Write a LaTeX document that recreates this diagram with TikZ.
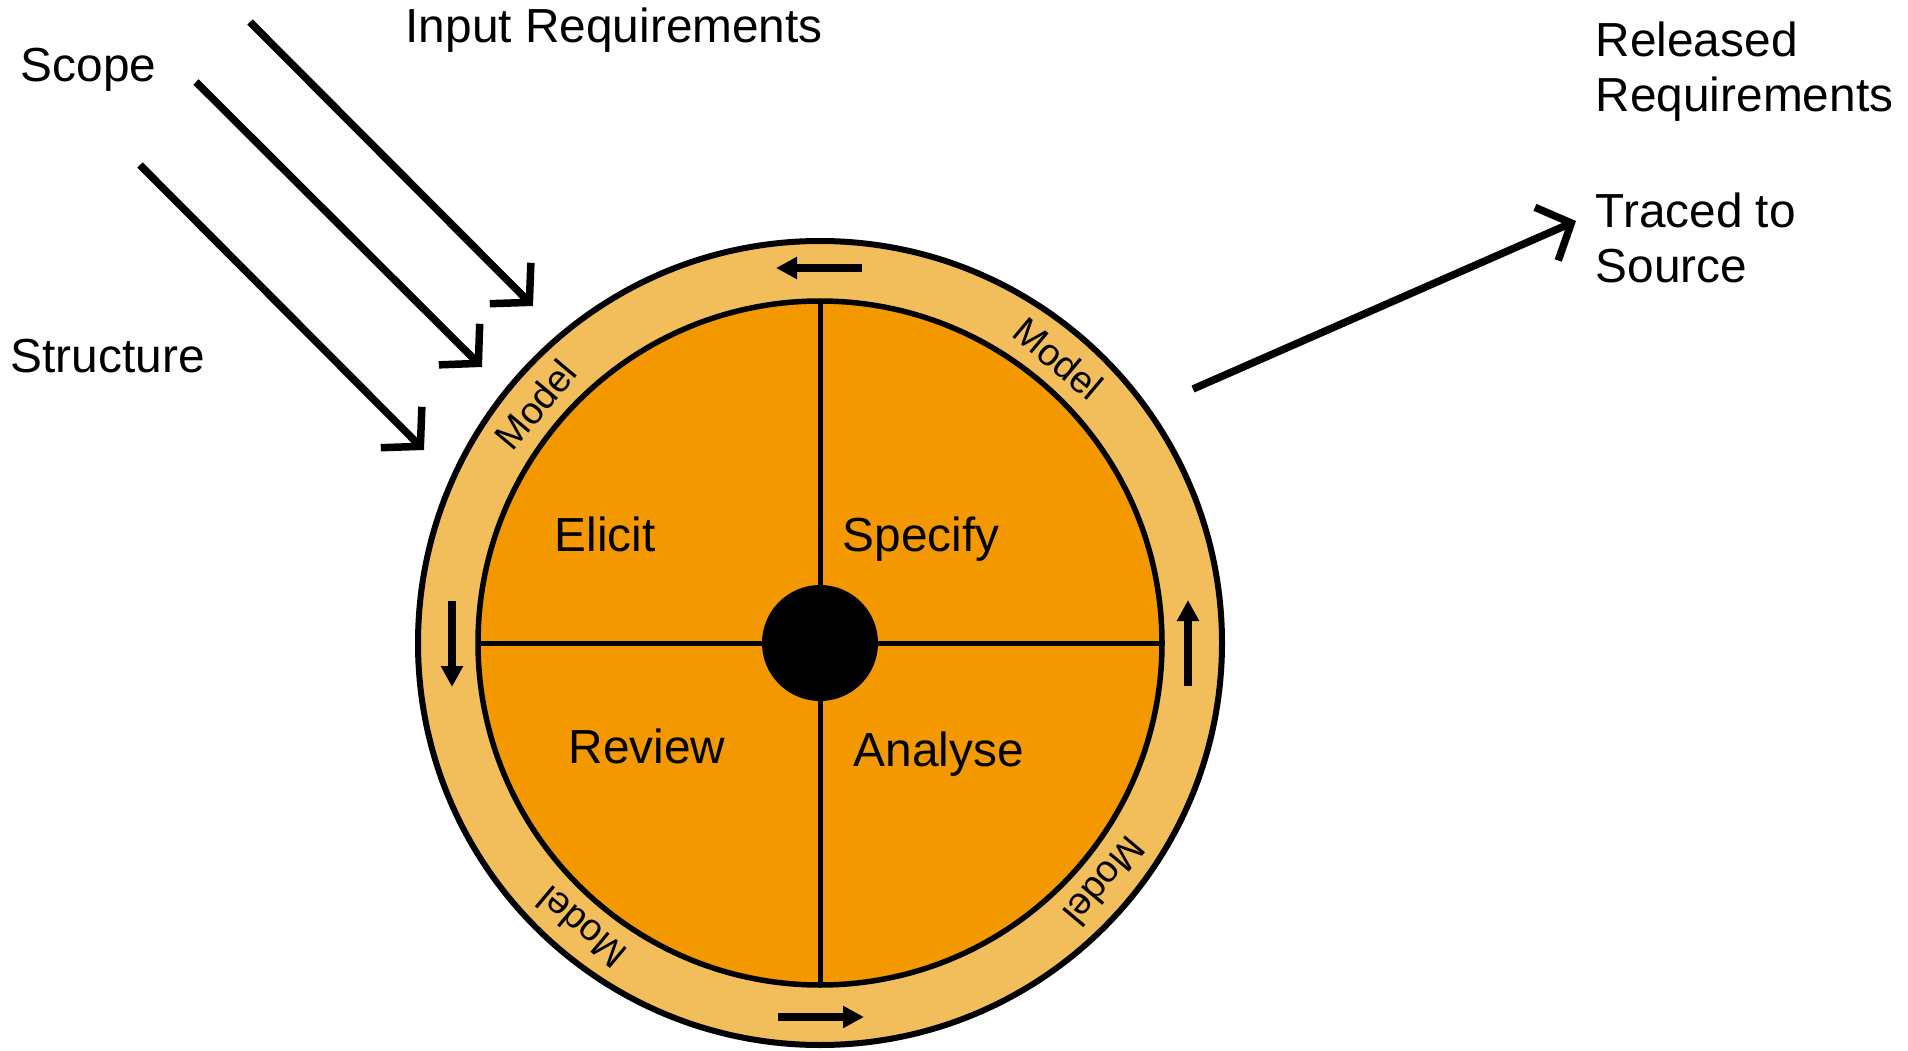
\documentclass[tikz,border=0pt]{standalone}
\usepackage{fontspec}
\setmainfont{Liberation Sans}
\usetikzlibrary{arrows.meta}

\definecolor{ringgold}{RGB}{242,190,92}
\definecolor{wheelorange}{RGB}{244,152,0}

\tikzset{
  ringdisc/.style={circle, draw, line width=0.06cm, fill=ringgold,
    minimum size=8.04cm, inner sep=0pt, outer sep=0pt},
  wheeldisc/.style={circle, draw, line width=0.055cm, fill=wheelorange,
    minimum size=6.84cm, inner sep=0pt, outer sep=0pt},
  hubdot/.style={circle, fill=black, minimum size=1.16cm, inner sep=0pt},
  divider/.style={line width=0.05cm},
  phase/.style={anchor=base west, inner sep=0pt, font=\fontsize{13.6}{16}\selectfont},
  sidetext/.style={anchor=base west, inner sep=0pt, align=left,
    font=\fontsize{13.6}{15.9}\selectfont},
  modeltag/.style={inner sep=0pt, font=\fontsize{10.8}{12}\selectfont},
  flowarrow/.style={line width=0.075cm, -{Triangle[length=0.21cm,width=0.21cm]}},
  feedarrow/.style={line width=0.075cm, -{Straight Barb[length=0.27cm,width=0.58cm]}}
}

\begin{document}
\begin{tikzpicture}
  \useasboundingbox (0,0) rectangle (19.08,10.5);

  % the wheel
  \node[ringdisc] (ring) at (8.20,4.07) {};
  \node[wheeldisc] (wheel) at (ring.center) {};
  \draw[divider] (wheel.north) -- (wheel.south);
  \draw[divider] (wheel.west) -- (wheel.east);
  \node[hubdot] (hub) at (ring.center) {};

  \node[phase] (elicit)  at ([shift={(-2.66,0.92)}]hub.center) {Elicit};
  \node[phase] (specify) at ([shift={(0.22,0.92)}]hub.center) {Specify};
  \node[phase] (review)  at ([shift={(-2.52,-1.20)}]hub.center) {Review};
  \node[phase] (analyse) at ([shift={(0.33,-1.23)}]hub.center) {Analyse};

  % round the ring
  \foreach \a [count=\i] in {140,50,-40,-130}
    \node[modeltag, rotate=\a-90] (model\i) at ([shift={(\a:3.71)}]ring.center) {Model};
  \draw[flowarrow] ([shift={(0.42,3.75)}]ring.center) -- ++(-0.86,0);
  \draw[flowarrow] ([shift={(-3.68,0.42)}]ring.center) -- ++(0,-0.86);
  \draw[flowarrow] ([shift={(-0.42,-3.74)}]ring.center) -- ++(0.86,0);
  \draw[flowarrow] ([shift={(3.68,-0.43)}]ring.center) -- ++(0,0.86);

  % inputs
  \node[sidetext] (inreq) at (4.05,10.07) {Input Requirements};
  \node[sidetext] (scope) at (0.20,9.68) {Scope};
  \node[sidetext] (structure) at (0.10,6.78) {Structure};
  \coordinate (inreqtail) at (2.50,10.28);
  \coordinate (inreqtip) at (5.33,7.44);
  \coordinate (scopetail) at (1.96,9.68);
  \coordinate (scopetip) at (4.82,6.83);
  \coordinate (structtail) at (1.40,8.85);
  \coordinate (structtip) at (4.24,6.00);
  \draw[feedarrow] (inreqtail) -- (inreqtip);
  \draw[feedarrow] (scopetail) -- (scopetip);
  \draw[feedarrow] (structtail) -- (structtip);

  % outputs
  \node[sidetext] (released) at (15.95,9.38) {Released\\Requirements};
  \node[sidetext] (traced) at (15.95,7.67) {Traced to\\Source};
  \coordinate (outtail) at (11.93,6.61);
  \coordinate (outtip) at (15.76,8.29);
  \draw[feedarrow] (outtail) -- (outtip);
\end{tikzpicture}
\end{document}
